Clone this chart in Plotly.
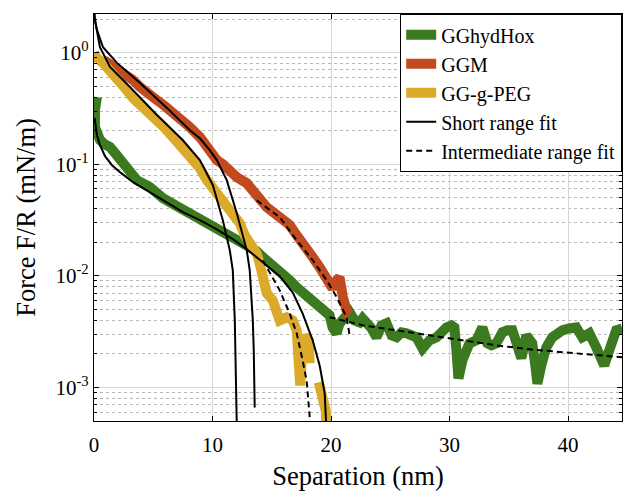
import plotly.graph_objects as go

# ---------------- data ----------------
# GGhydHox (green)
green_x = [0.25, 0.17, 0.08, 0.08, 0.17, 0.25, 0.51, 0.93, 1.35, 1.77, 2.19, 2.78, 3.62, 4.72, 5.81,
           6.99, 8.09, 9.18, 10.36, 11.46, 12.55, 13.14, 13.73, 14.24, 14.83, 15.42, 15.92, 16.51,
           17.10, 17.61, 18.2, 18.79, 19.29, 19.88, 20.13, 20.47, 20.72, 21.15, 21.57, 21.99, 22.41,
           22.66, 23.08, 23.42, 23.84, 24.26, 24.68, 25.11, 25.53, 25.95, 26.37, 26.79, 27.21, 27.72,
           28.31, 28.9, 29.32, 29.74, 30.16, 30.41, 30.58, 30.75, 31.09, 31.42, 31.68, 32.27, 32.77,
           33.19, 33.53, 33.95, 34.46, 34.88, 35.3, 35.72, 36.06, 36.48, 36.98, 37.24, 37.41, 37.74,
           38.16, 38.67, 39.09, 39.51, 40.1, 40.69, 41.2, 41.79, 42.38, 42.71, 43.05, 43.47, 43.81,
           44.06, 44.57]
green_y = [0.400, 0.36, 0.306, 0.215, 0.194, 0.175, 0.165, 0.150, 0.1425, 0.126, 0.109, 0.0886,
           0.0720, 0.0623, 0.0497, 0.0421, 0.0364, 0.0302, 0.0267, 0.0221, 0.0196, 0.0177, 0.0166,
           0.0147, 0.0132, 0.0117, 0.0107, 0.00912, 0.00789, 0.00711, 0.00641, 0.00566, 0.0049,
           0.00442, 0.00344, 0.00305, 0.00375, 0.00433, 0.0047, 0.00398, 0.00382, 0.00415, 0.00382,
           0.00337, 0.00281, 0.00359, 0.00375, 0.00292, 0.00281, 0.00311, 0.00305, 0.00286, 0.00281,
           0.00223, 0.00264, 0.00281, 0.00324, 0.00344, 0.00359, 0.00344, 0.00214, 0.0012, 0.00175,
           0.00214, 0.00248, 0.00264, 0.00344, 0.00248, 0.00238, 0.00248, 0.00311, 0.00324, 0.00324,
           0.00238, 0.00182, 0.00292, 0.00248, 0.00157, 0.00108, 0.00157, 0.00228, 0.00281, 0.00305,
           0.00324, 0.00337, 0.00344, 0.00281, 0.00305, 0.00228, 0.00193, 0.00157, 0.00214, 0.00286,
           0.00324, 0.00337]

# GGM (red)
red_x = [0.84, 1.35, 2.19, 2.78, 3.29, 3.88, 4.72, 5.31, 5.98, 6.66, 7.25, 8.09, 8.93, 9.52, 10.03,
         10.36, 10.87, 11.46, 12.05, 12.89, 13.73, 14.57, 15.67, 16.1, 16.51, 17.1, 17.94, 18.45,
         19.04, 19.63, 20.13, 20.47, 20.72, 20.98, 21.31, 21.57]
red_y = [0.86, 0.792, 0.700, 0.618, 0.569, 0.492, 0.435, 0.376, 0.332, 0.294, 0.254, 0.215, 0.175,
         0.1425, 0.118, 0.109, 0.1, 0.0849, 0.0766, 0.0676, 0.0517, 0.0412, 0.0335, 0.0310, 0.0285,
         0.0231, 0.0180, 0.0147, 0.0119, 0.00912, 0.00773, 0.00912, 0.0097, 0.00655, 0.0049, 0.00521]

# GG-g-PEG (yellow); None marks where the signal drops out of the log range
yellow_x = [0.0, 0.25, 0.76, 1.35, 1.94, 2.61, 3.29, 3.88, 4.72, 5.31, 5.98, 6.66, 7.25, 8.09, 8.93,
            9.52, 10.03, 10.62, 11.2, 11.71, 12.3, 12.72, 13.14, 13.73, 13.98, 14.24, 14.57, 15.08,
            15.42, 15.67, 16.26, 16.76, 17.1, 17.19, 17.3, 17.4, 17.61, 17.86, 18.11, 18.2, 18.6,
            18.96, 19.29, 19.55, 19.63]
yellow_y = [1.0, 0.896, 0.808, 0.700, 0.569, 0.482, 0.392, 0.346, 0.294, 0.249, 0.211, 0.175, 0.148,
            0.123, 0.0923, 0.0720, 0.061, 0.0507, 0.0438, 0.0364, 0.0296, 0.0231, 0.0196, 0.0159,
            0.0129, 0.00912, 0.00697, 0.00603, 0.0049, 0.00398, 0.00424, 0.00398, 0.00324, 0.00228,
            0.00142, 0.00104, 0.00238, 0.00292, 0.00264, 0.00164, None, 0.00111, 0.000845, 0.00062,
            0.00041]

# Short range fits (solid black)
fit_green_x = [0.05, 0.25, 0.51, 0.93, 1.52, 2.19, 3.29, 4.72, 6.15, 7.5, 8.93, 10.36, 11.71, 12.89,
               14.24, 15.67, 16.76, 17.6, 18.45, 19.04, 19.46, 19.63, 19.68]
fit_green_y = [0.26, 0.182, 0.148, 0.118, 0.098, 0.085, 0.069, 0.0562, 0.0457, 0.0372, 0.0316,
               0.0261, 0.0213, 0.0173, 0.0132, 0.00989, 0.00711, 0.0046, 0.00264, 0.00157, 0.00089,
               0.0005, 0.0003]
fit_red_x = [0.0, 0.08, 0.25, 0.76, 1.94, 3.88, 6.15, 8.09, 8.93, 9.77, 10.36, 11.2, 12.05, 12.55,
             12.89, 13.14, 13.4, 13.48, 13.56]
fit_red_y = [2.4, 1.97, 1.6, 1.12, 0.81, 0.535, 0.32, 0.202, 0.171, 0.134, 0.109, 0.072, 0.0364,
             0.0231, 0.0169, 0.0112, 0.00398, 0.00214, 0.00066]
fit_yel_x = [0.0, 0.08, 0.5, 1.35, 3.03, 5.31, 7.5, 8.93, 10.03, 10.87, 11.46, 11.71, 11.88, 11.96,
             12.05, 12.08]
fit_yel_y = [2.4, 1.97, 1.12, 0.745, 0.492, 0.276, 0.164, 0.109, 0.0649, 0.0315, 0.0169, 0.0112,
             0.00398, 0.00141, 0.0005, 0.0003]

# Intermediate range fits (dashed black)
dfit_green_x = [19.88, 22.66, 25.53, 28.31, 31.09, 33.95, 36.73, 39.51, 42.38, 44.57]
dfit_green_y = [0.00425, 0.0036, 0.00324, 0.00292, 0.00264, 0.00238, 0.00219, 0.00206, 0.00193,
                0.00186]
dfit_red_x = [13.73, 15.67, 17.1, 18.45, 19.63, 20.47, 21.31, 21.57]
dfit_red_y = [0.0474, 0.0335, 0.0208, 0.0138, 0.00912, 0.00645, 0.00425, 0.00292]
dfit_yel_x = [14.24, 15.67, 16.51, 17.1, 17.6, 17.94, 18.2]
dfit_yel_y = [0.0138, 0.0074, 0.0046, 0.00305, 0.00175, 0.00115, 0.00054]

names = ["GGhydHox", "GGM", "GG-g-PEG", "Short range fit", "Intermediate range fit"]
colors = ["#3b7a1e", "#c24a1f", "#dcaa2a"]

y_ticks = [1e-3, 1e-2, 1e-1, 1e0]
y_ticktext = ["10<sup>-3</sup>", "10<sup>-2</sup>", "10<sup>-1</sup>", "10<sup>0</sup>"]
x_ticks = [0, 10, 20, 30, 40]

# ---------------- figure ----------------
FONT = "Liberation Serif"
fig = go.Figure()

for xs, ys, nm, c in [(green_x, green_y, names[0], colors[0]),
                      (red_x, red_y, names[1], colors[1]),
                      (yellow_x, yellow_y, names[2], colors[2])]:
    fig.add_trace(go.Scatter(x=xs, y=ys, mode="lines", name=nm,
                             line=dict(color=c, width=10), connectgaps=False))

for i, (xs, ys) in enumerate([(fit_green_x, fit_green_y), (fit_red_x, fit_red_y),
                              (fit_yel_x, fit_yel_y)]):
    fig.add_trace(go.Scatter(x=xs, y=ys, mode="lines", name=names[3],
                             legendgroup="short", showlegend=(i == 0),
                             line=dict(color="black", width=2)))

for i, (xs, ys) in enumerate([(dfit_green_x, dfit_green_y), (dfit_red_x, dfit_red_y),
                              (dfit_yel_x, dfit_yel_y)]):
    fig.add_trace(go.Scatter(x=xs, y=ys, mode="lines", name=names[4],
                             legendgroup="inter", showlegend=(i == 0),
                             line=dict(color="black", width=2, dash="6px,4px")))

minor_vals = [m * 10 ** e for e in range(-4, 1) for m in range(2, 10)]

fig.update_layout(
    width=623, height=491,
    margin=dict(l=94, r=1, t=14, b=70, autoexpand=False),
    paper_bgcolor="white", plot_bgcolor="white",
    font=dict(family=FONT, size=21, color="black"),
    showlegend=True,
    legend=dict(x=1, y=1, xanchor="right", yanchor="top",
                bgcolor="white", bordercolor="black", borderwidth=1.2,
                font=dict(family=FONT, size=20, color="black"),
                tracegroupgap=0, itemwidth=30,
                traceorder="normal"),
)

fig.update_xaxes(
    range=[0, 44.55], tickvals=x_ticks, ticktext=[str(v) for v in x_ticks],
    showline=True, linecolor="black", linewidth=1.3, mirror="ticks",
    ticks="inside", ticklen=5, tickcolor="black", automargin=False,
    ticklabelstandoff=5,
    showgrid=True, gridcolor="#d6d6d6", gridwidth=1, zeroline=False,
    tickfont=dict(family=FONT, size=21),
    title=dict(text="Separation (nm)", font=dict(family=FONT, size=26.5), standoff=14),
)
fig.update_yaxes(
    type="log", range=[-3.302, 0.347],
    tickvals=y_ticks, ticktext=y_ticktext,
    showline=True, linecolor="black", linewidth=1.3, mirror="ticks",
    ticks="inside", ticklen=5, tickcolor="black", automargin=False,
    showgrid=True, gridcolor="#d6d6d6", gridwidth=1, zeroline=False,
    minor=dict(tickvals=minor_vals, ticks="inside", ticklen=3, tickcolor="black",
               showgrid=True, gridcolor="#b8b8b8", griddash="dot", gridwidth=1),
    tickfont=dict(family=FONT, size=21),
    title=dict(text="Force F/R (mN/m)", font=dict(family=FONT, size=26.5), standoff=12),
)

fig.write_html("out.html", config={"displayModeBar": False},
               post_script="document.body.style.margin='0';")
